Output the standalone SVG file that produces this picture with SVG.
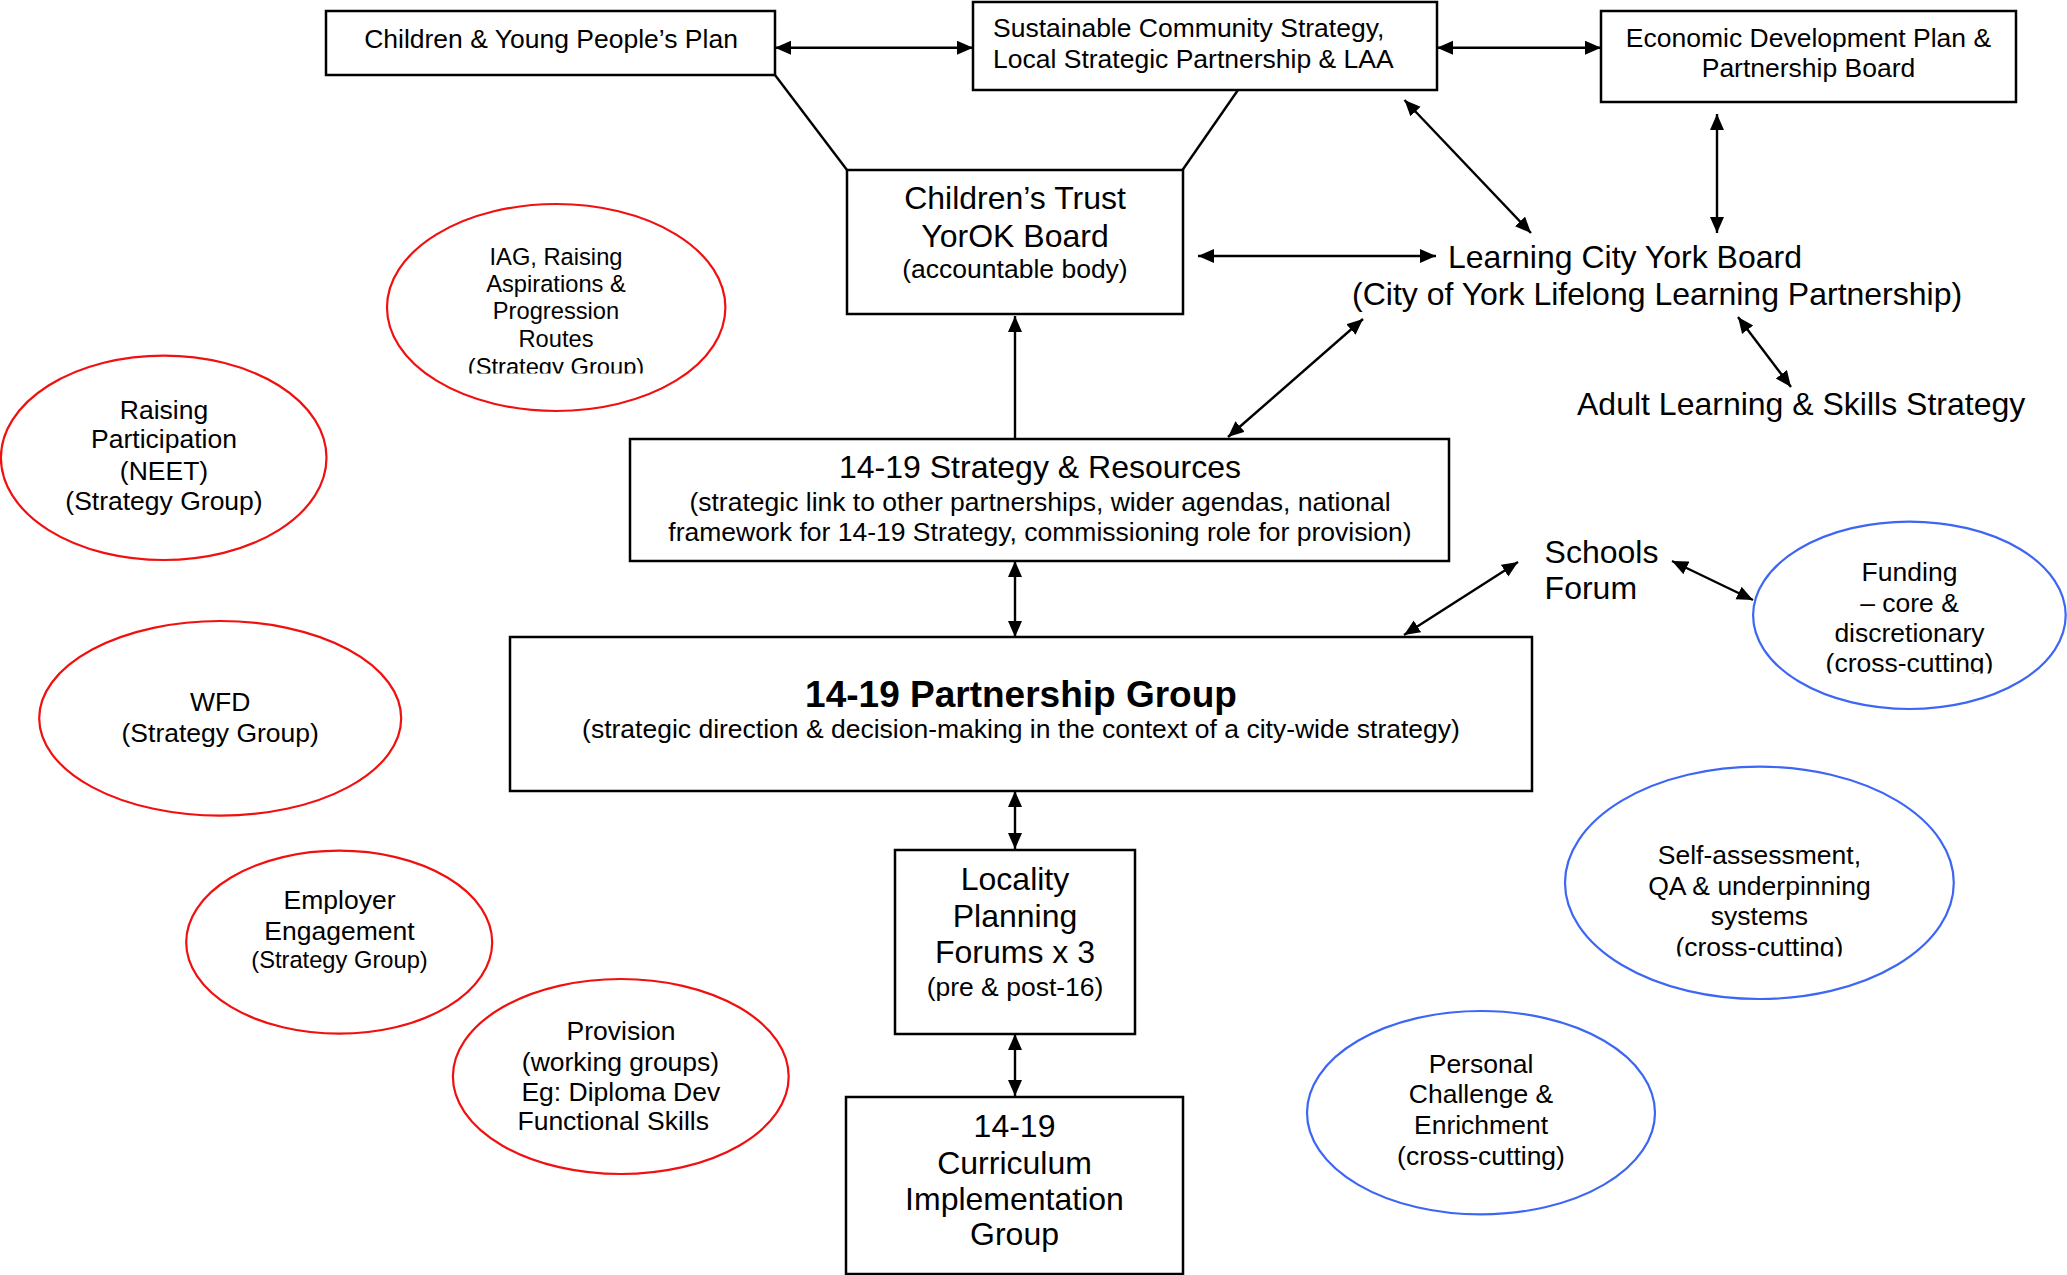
<svg xmlns="http://www.w3.org/2000/svg" width="2067" height="1275" viewBox="0 0 2067 1275">
<style>
text{font-family:"Liberation Sans",Arial,sans-serif;fill:#000}
.box{fill:#fff;stroke:#000;stroke-width:2.5}
.red{fill:none;stroke:#f01010;stroke-width:2.2}
.blue{fill:none;stroke:#3d66f5;stroke-width:2.2}
.c{text-anchor:middle}
.L{font-size:32px}
.M{font-size:26.5px}
.S{font-size:23.7px}
.B{font-size:37px;font-weight:bold}
.conn line{stroke:#000;stroke-width:2.4}
</style>
<defs>
<marker id="ah" markerUnits="userSpaceOnUse" markerWidth="17" markerHeight="15" refX="16" refY="7" orient="auto-start-reverse">
<path d="M0,0 L16,7 L0,14 z" fill="#000"/>
</marker>
<clipPath id="clipIAG"><rect x="380" y="200" width="350" height="173.5"/></clipPath>
<clipPath id="clipFund"><rect x="1750" y="515" width="320" height="158.5"/></clipPath>
<clipPath id="clipSelf"><rect x="1560" y="760" width="400" height="196.5"/></clipPath>
</defs>
<rect width="2067" height="1275" fill="#fff"/>

<g id="connectors" class="conn">
<line x1="775" y1="47.7" x2="973" y2="47.7" marker-start="url(#ah)" marker-end="url(#ah)"/>
<line x1="1437" y1="47.7" x2="1601" y2="47.7" marker-start="url(#ah)" marker-end="url(#ah)"/>
<line x1="775" y1="75" x2="847" y2="170"/>
<line x1="1238" y1="90" x2="1182.5" y2="170"/>
<line x1="1198" y1="256" x2="1436" y2="256" marker-start="url(#ah)" marker-end="url(#ah)"/>
<line x1="1404.5" y1="100" x2="1531" y2="233" marker-start="url(#ah)" marker-end="url(#ah)"/>
<line x1="1717" y1="114" x2="1717" y2="233" marker-start="url(#ah)" marker-end="url(#ah)"/>
<line x1="1738" y1="317" x2="1791" y2="387" marker-start="url(#ah)" marker-end="url(#ah)"/>
<line x1="1015" y1="439" x2="1015" y2="316" marker-end="url(#ah)"/>
<line x1="1228" y1="437" x2="1363" y2="319" marker-start="url(#ah)" marker-end="url(#ah)"/>
<line x1="1015" y1="561" x2="1015" y2="637" marker-start="url(#ah)" marker-end="url(#ah)"/>
<line x1="1404" y1="635" x2="1518" y2="562" marker-start="url(#ah)" marker-end="url(#ah)"/>
<line x1="1672" y1="561" x2="1753" y2="600" marker-start="url(#ah)" marker-end="url(#ah)"/>
<line x1="1015" y1="791" x2="1015" y2="849" marker-start="url(#ah)" marker-end="url(#ah)"/>
<line x1="1015" y1="1034" x2="1015" y2="1096" marker-start="url(#ah)" marker-end="url(#ah)"/>
</g>

<g id="cypp">
<rect class="box" x="326" y="11" width="449" height="64"/>
<text class="M c" x="551" y="47.5">Children &amp; Young People’s Plan</text>
</g>

<g id="scs">
<rect class="box" x="973" y="2" width="464" height="88"/>
<text class="M" x="993" y="37.3">Sustainable Community Strategy,</text>
<text class="M" x="993" y="68.3">Local Strategic Partnership &amp; LAA</text>
</g>

<g id="edp">
<rect class="box" x="1601" y="11" width="415" height="91"/>
<text class="M c" x="1808.5" y="46.7">Economic Development Plan &amp;</text>
<text class="M c" x="1808.5" y="76.7">Partnership Board</text>
</g>

<g id="childrens-trust">
<rect class="box" x="847" y="170" width="336" height="144"/>
<text class="L c" x="1015" y="209.3">Children’s Trust</text>
<text class="L c" x="1015" y="246.7">YorOK Board</text>
<text class="M c" x="1015" y="278">(accountable body)</text>
</g>

<g id="learning-city">
<text class="L" x="1448" y="268">Learning City York Board</text>
<text class="L" x="1352" y="305">(City of York Lifelong Learning Partnership)</text>
</g>

<g id="adult-learning">
<text class="L" x="1577" y="415">Adult Learning &amp; Skills Strategy</text>
</g>

<g id="strategy-resources">
<rect class="box" x="630" y="439" width="819" height="122"/>
<text class="L c" x="1040" y="478.3">14-19 Strategy &amp; Resources</text>
<text class="M c" x="1040" y="510.7">(strategic link to other partnerships, wider agendas, national</text>
<text class="M c" x="1040" y="540.7">framework for 14-19 Strategy, commissioning role for provision)</text>
</g>

<g id="partnership-group">
<rect class="box" x="510" y="637" width="1022" height="154"/>
<text class="B c" x="1021" y="706.7">14-19 Partnership Group</text>
<text class="M c" x="1021" y="738">(strategic direction &amp; decision-making in the context of a city-wide strategy)</text>
</g>

<g id="schools-forum">
<text class="L" x="1544.6" y="563.3">Schools</text>
<text class="L" x="1544.6" y="599.3">Forum</text>
</g>

<g id="locality">
<rect class="box" x="895" y="850" width="240" height="184"/>
<text class="L c" x="1015" y="890">Locality</text>
<text class="L c" x="1015" y="926.7">Planning</text>
<text class="L c" x="1015" y="963.3">Forums x 3</text>
<text class="M c" x="1015" y="995.5">(pre &amp; post-16)</text>
</g>

<g id="curriculum">
<rect class="box" x="846" y="1097" width="337" height="177"/>
<text class="L c" x="1014.5" y="1136.5">14-19</text>
<text class="L c" x="1014.5" y="1173.5">Curriculum</text>
<text class="L c" x="1014.5" y="1210">Implementation</text>
<text class="L c" x="1014.5" y="1245">Group</text>
</g>

<g id="iag">
<ellipse class="red" cx="556.2" cy="307.5" rx="169.2" ry="103.5"/>
<g clip-path="url(#clipIAG)">
<text class="S c" x="556" y="265">IAG, Raising</text>
<text class="S c" x="556" y="291.7">Aspirations &amp;</text>
<text class="S c" x="556" y="319.3">Progression</text>
<text class="S c" x="556" y="346.7">Routes</text>
<text class="S c" x="556" y="374.5">(Strategy Group)</text>
</g>
</g>

<g id="raising-participation">
<ellipse class="red" cx="163.7" cy="457.8" rx="162.8" ry="102.2"/>
<text class="M c" x="164" y="419.3">Raising</text>
<text class="M c" x="164" y="448.3">Participation</text>
<text class="M c" x="164" y="480">(NEET)</text>
<text class="M c" x="164" y="510">(Strategy Group)</text>
</g>

<g id="wfd">
<ellipse class="red" cx="220.2" cy="718.3" rx="181" ry="97.3"/>
<text class="M c" x="220.2" y="711">WFD</text>
<text class="M c" x="220.2" y="741.6">(Strategy Group)</text>
</g>

<g id="employer">
<ellipse class="red" cx="339.2" cy="942.2" rx="153" ry="91.5"/>
<text class="M c" x="339.5" y="909.2">Employer</text>
<text class="M c" x="339.5" y="939.5">Engagement</text>
<text class="S c" x="339.5" y="968.2">(Strategy Group)</text>
</g>

<g id="provision">
<ellipse class="red" cx="620.8" cy="1076.5" rx="167.9" ry="97.5"/>
<text class="M c" x="621" y="1040">Provision</text>
<text class="M c" x="620.5" y="1070.7">(working groups)</text>
<text class="M c" x="620.8" y="1100.6">Eg: Diploma Dev</text>
<text class="M c" x="613.2" y="1130">Functional Skills</text>
</g>

<g id="funding">
<ellipse class="blue" cx="1909.4" cy="615.3" rx="156.3" ry="93.7"/>
<g clip-path="url(#clipFund)">
<text class="M c" x="1909.5" y="581">Funding</text>
<text class="M c" x="1909.5" y="611.7">– core &amp;</text>
<text class="M c" x="1909.5" y="641.7">discretionary</text>
<text class="M c" x="1909.5" y="672">(cross-cutting)</text>
</g>
</g>

<g id="self-assessment">
<ellipse class="blue" cx="1759.4" cy="882.8" rx="194.4" ry="116.2"/>
<g clip-path="url(#clipSelf)">
<text class="M c" x="1759.4" y="864">Self-assessment,</text>
<text class="M c" x="1759.4" y="895">QA &amp; underpinning</text>
<text class="M c" x="1759.4" y="925">systems</text>
<text class="M c" x="1759.4" y="955.7">(cross-cutting)</text>
</g>
</g>

<g id="personal-challenge">
<ellipse class="blue" cx="1481" cy="1112.7" rx="174" ry="101.7"/>
<text class="M c" x="1481" y="1073.3">Personal</text>
<text class="M c" x="1481" y="1103.3">Challenge &amp;</text>
<text class="M c" x="1481" y="1134">Enrichment</text>
<text class="M c" x="1481" y="1165">(cross-cutting)</text>
</g>
</svg>
